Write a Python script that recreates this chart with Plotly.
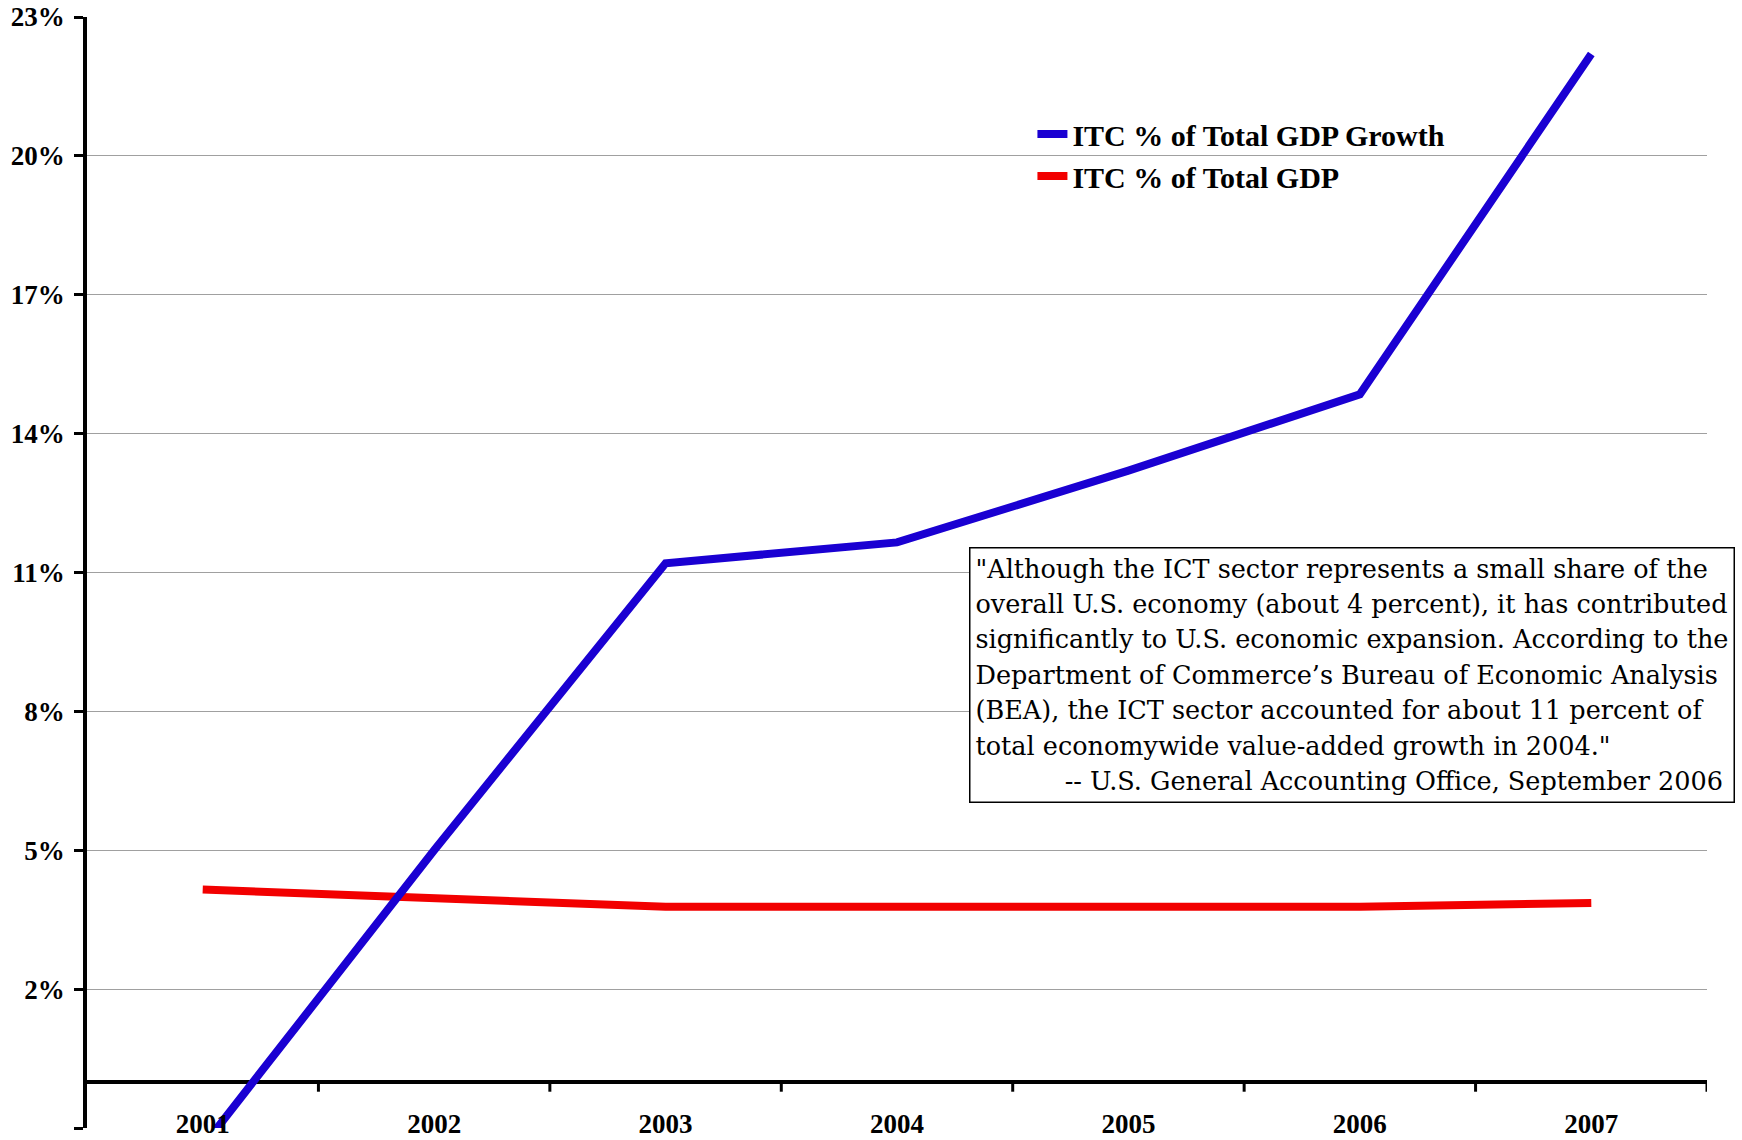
import plotly.graph_objects as go

years = ["2001", "2002", "2003", "2004", "2005", "2006", "2007"]
itc_growth = [-1.4, 5.0, 11.2, 11.65, 13.2, 14.85, 22.2]
itc_gdp = [4.15, 3.98, 3.78, 3.78, 3.78, 3.78, 3.86]
y_ticks = [-1, 2, 5, 8, 11, 14, 17, 20, 23]
y_labels = [f"{v}%" for v in y_ticks]
series_names = ["ITC % of Total GDP Growth", "ITC % of Total GDP"]
quote_lines = [
    "\"Although the ICT sector represents a small share of the",
    "overall U.S. economy (about 4 percent), it has contributed",
    "significantly to U.S. economic expansion. According to the",
    "Department of Commerce\u2019s Bureau of Economic Analysis",
    "(BEA), the ICT sector accounted for about 11 percent of",
    "total economywide value-added growth in 2004.\"",
    "\u00a0" * 11 + "-- U.S. General Accounting Office, September 2006",
]

SERIF = "Liberation Serif"
QUOTE_FONT = "DejaVu Serif"
BLUE = "#1a00d2"
RED = "#f20000"

fig = go.Figure()
fig.add_trace(go.Scatter(
    x=years, y=itc_gdp, mode="lines", name=series_names[1],
    line=dict(color=RED, width=8), legendrank=2, legendgroup="b",
))
fig.add_trace(go.Scatter(
    x=years, y=itc_growth, mode="lines", name=series_names[0],
    line=dict(color=BLUE, width=8), legendrank=1, legendgroup="a",
))

# small tick marks on the zero line between categories
for k in range(len(years)):
    fig.add_shape(
        type="line", xref="x", yref="y", ysizemode="pixel", yanchor=0,
        x0=k + 0.5, x1=k + 0.5, y0=0, y1=-10,
        line=dict(color="black", width=3),
    )

quote_text = "<br>".join(
    f"<span style='font-size:25.5px'>{line}</span>" for line in quote_lines
)
fig.add_annotation(
    xref="paper", yref="paper", x=0.5444, y=0.5232,
    xanchor="left", yanchor="top", align="left",
    text=quote_text, showarrow=False,
    font=dict(family=QUOTE_FONT, size=27.3, color="black"),
    bordercolor="black", borderwidth=1.5, borderpad=5, bgcolor="white",
)

fig.update_layout(
    width=1742, height=1140,
    margin=dict(l=87, r=35, t=17, b=12),
    plot_bgcolor="white", paper_bgcolor="white",
    font=dict(family=SERIF, color="black"),
    showlegend=True,
    legend=dict(
        x=0.5836, y=0.918, xanchor="left", yanchor="top",
        font=dict(family=SERIF, size=30, color="black", weight="bold"),
        bgcolor="rgba(0,0,0,0)", tracegroupgap=0,
    ),
    xaxis=dict(
        type="category", range=[-0.5, 6.5], showgrid=False, showline=False,
        zeroline=False, ticks="", tickfont=dict(family=SERIF, size=27, weight="bold"),
        ticklabelstandoff=-23, automargin=False,
    ),
    yaxis=dict(
        range=[-1, 23], tickvals=y_ticks, ticktext=y_labels,
        showgrid=True, gridcolor="#a0a0a0", gridwidth=1,
        showline=True, linecolor="black", linewidth=3.5,
        ticks="outside", ticklen=9, tickwidth=3, tickcolor="black",
        zeroline=True, zerolinecolor="black", zerolinewidth=3.5,
        tickfont=dict(family=SERIF, size=27, weight="bold"),
        ticklabelstandoff=4, automargin=False,
    ),
)

fig.write_html(
    "out.html",
    config={"displayModeBar": False},
    post_script="document.body.style.margin='0';document.body.style.overflow='hidden';",
)
